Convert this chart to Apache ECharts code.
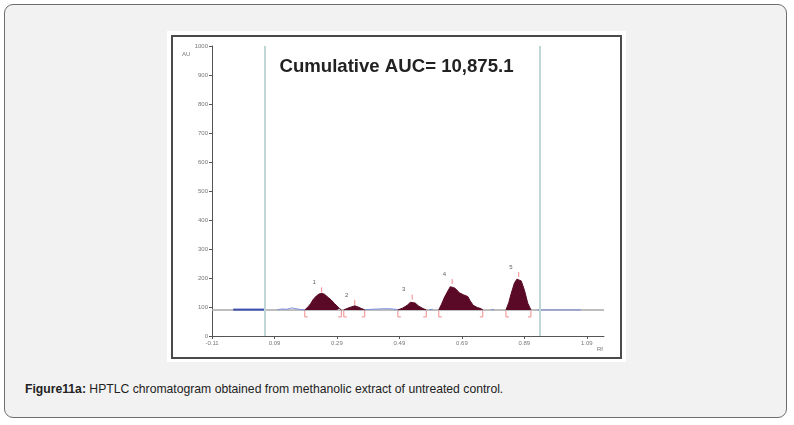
<!DOCTYPE html>
<html>
<head>
<meta charset="utf-8">
<script src="https://cdn.jsdelivr.net/npm/echarts@6/dist/echarts.min.js"></script>
<style>
  html, body { margin:0; padding:0; background:#ffffff; width:794px; height:425px; overflow:hidden; font-family:"Liberation Sans", Arial, sans-serif; }
  #panel { position:absolute; left:4px; top:4px; width:783px; height:414px; box-sizing:border-box; border:1px solid #6e6e6e; border-radius:9px; background:#f2f2f2; }
  #imgbox { position:absolute; left:167px; top:31px; width:459px; height:331px; background:#ffffff; }
  #frame { position:absolute; left:171px; top:35px; width:451px; height:324px; box-sizing:border-box; border:2px solid #4a4a4a; background:#fff; }
  #chart { width:447px; height:320px; }
  #caption { position:absolute; left:25px; top:382px; font-size:12.2px; line-height:14px; color:#222; white-space:nowrap; }
</style>
</head>
<body>
<div id="panel"></div>
<div id="imgbox"></div>
<div id="frame"><div id="chart"></div></div>
<div id="caption"><b>Figure11a:</b> HPTLC chromatogram obtained from methanolic extract of untreated control.</div>
<script>
// ---- data (Rf, AU) ----
const titleText = 'Cumulative AUC= 10,875.1';
const xMin = -0.11, xMax = 1.145, xStep = 0.2;
const yMin = 0, yMax = 1000, yStep = 100;
const baselineAU = 90;
const baselineX = [-0.11, 1.145];
const frontLines = [0.059, 0.935];

const scanDarkX = [-0.042, 0.059];
const scanDarkY = [91, 91];
const scanLightX = [0.100, 0.115, 0.130, 0.145, 0.155, 0.170, 0.187, null, 0.380, 0.400, 0.420, 0.440, 0.460, 0.485, null, 0.585, 0.597, null, 0.783, 0.793, null, 0.932, 1.071];
const scanLightY = [91, 93, 92, 97, 95, 92, 90, null, 91, 92, 93, 94, 94, 91, null, 91, 92, null, 91, 91, null, 90, 90];

const peak1X = [0.187, 0.198, 0.206, 0.214, 0.224, 0.233, 0.241, 0.250, 0.262, 0.272, 0.282, 0.290, 0.298, 0.304];
const peak1Y = [90, 101, 112, 126, 138, 145, 147, 144, 133, 124, 112, 104, 95, 90];
const peak2X = [0.312, 0.325, 0.338, 0.347, 0.356, 0.368, 0.379];
const peak2Y = [90, 96, 101, 104, 101, 95, 90];
const peak3X = [0.485, 0.500, 0.515, 0.525, 0.531, 0.540, 0.552, 0.565, 0.576];
const peak3Y = [90, 96, 106, 116, 122, 114, 103, 95, 90];
const peak4X = [0.616, 0.625, 0.635, 0.645, 0.653, 0.659, 0.668, 0.682, 0.695, 0.709, 0.716, 0.726, 0.740, 0.750, 0.757];
const peak4Y = [90, 110, 135, 155, 170, 176, 165, 149, 142, 136, 122, 106, 98, 95, 90];
const peak5X = [0.831, 0.840, 0.848, 0.858, 0.866, 0.872, 0.880, 0.890, 0.901, 0.911];
const peak5Y = [90, 115, 147, 182, 196, 200, 190, 159, 113, 90];

const peakNames = ['1', '2', '3', '4', '5'];
const peakLabelX = [0.217, 0.321, 0.504, 0.634, 0.847];
const peakLabelY = [184, 141, 161, 213, 238];
const peakTopX = [0.241, 0.347, 0.531, 0.659, 0.872];
const peakTopY = [147, 104, 122, 176, 200];
const peakStartX = [0.187, 0.312, 0.485, 0.616, 0.831];
const peakEndX = [0.304, 0.379, 0.576, 0.757, 0.911];

// ---- build ----
const zip = (xs, ys) => xs.map((x, i) => (x === null ? [null, null] : [x, ys[i]]));
const peaks = [[peak1X, peak1Y], [peak2X, peak2Y], [peak3X, peak3Y], [peak4X, peak4Y], [peak5X, peak5Y]];
const peakColor = '#5a0a26';
const pink = '#f08a8a';

const series = [];
series.push({
  type: 'line', data: zip(baselineX, [baselineAU, baselineAU]), symbol: 'none', silent: true,
  lineStyle: { color: '#a8a8a8', width: 1.5 }, z: 1,
  markLine: {
    silent: true, symbol: 'none', label: { show: false },
    lineStyle: { color: '#bfd8d6', width: 2, type: 'solid' },
    data: frontLines.map(v => ({ xAxis: v }))
  }
});
series.push({ type: 'line', data: zip(scanDarkX, scanDarkY), symbol: 'none', lineStyle: { color: '#3b4fae', width: 2 }, z: 2 });
series.push({ type: 'line', data: zip(scanLightX, scanLightY), symbol: 'none', connectNulls: false, lineStyle: { color: '#7b8fe0', width: 1 }, z: 2 });
peaks.forEach(p => {
  series.push({
    type: 'line', data: zip(p[0], p[1]), symbol: 'none',
    lineStyle: { color: peakColor, width: 1 },
    areaStyle: { color: peakColor, opacity: 1, origin: baselineAU }, z: 3
  });
});
// peak-top markers
series.push({
  type: 'custom', z: 4, silent: true,
  data: zip(peakTopX, peakTopY),
  renderItem: (params, api) => {
    const p = api.coord([api.value(0), api.value(1)]);
    return { type: 'line', shape: { x1: p[0], y1: p[1] - 1, x2: p[0], y2: p[1] - 6 }, style: { stroke: pink, lineWidth: 1 } };
  }
});
// integration brackets
const brackets = peakStartX.map(x => [x, 1]).concat(peakEndX.map(x => [x, -1]));
series.push({
  type: 'custom', z: 4, silent: true,
  data: brackets,
  renderItem: (params, api) => {
    const p = api.coord([api.value(0), baselineAU]);
    const s = api.value(1);
    return { type: 'polyline', shape: { points: [[p[0], p[1] + 1], [p[0], p[1] + 7], [p[0] + 3 * s, p[1] + 7]] }, style: { stroke: pink, lineWidth: 1, fill: null } };
  }
});
// peak numbers
series.push({
  type: 'scatter', symbolSize: 0, silent: true, z: 5,
  data: peakNames.map((n, i) => ({ name: n, value: [peakLabelX[i], peakLabelY[i]] })),
  label: { show: true, position: 'inside', formatter: '{b}', fontSize: 6, color: '#333', fontFamily: 'Liberation Sans' }
});

const chart = echarts.init(document.getElementById('chart'), null, { renderer: 'canvas' });
chart.setOption({
  animation: false,
  backgroundColor: '#ffffff',
  title: { text: titleText, left: 'center', top: 15, textStyle: { fontSize: 18.6, fontWeight: 'bold', color: '#222', fontFamily: 'Liberation Sans' } },
  grid: { left: 39, top: 9, right: 16, bottom: 21, containLabel: false },
  xAxis: {
    type: 'value', min: xMin, max: xMax, interval: xStep,
    axisLine: { show: true, onZero: false, lineStyle: { color: '#555', width: 1 } },
    axisTick: { show: true, length: 3, lineStyle: { color: '#555' } },
    axisLabel: { fontSize: 6, color: '#777', margin: 4, showMaxLabel: false, formatter: v => v.toFixed(2) },
    splitLine: { show: false }
  },
  yAxis: {
    type: 'value', min: yMin, max: yMax, interval: yStep,
    axisLine: { show: true, onZero: false, lineStyle: { color: '#555', width: 1 } },
    axisTick: { show: true, length: 3, lineStyle: { color: '#555' } },
    axisLabel: { fontSize: 6, color: '#777', margin: 4, formatter: v => String(v) },
    splitLine: { show: false }
  },
  graphic: [
    { type: 'text', left: 9, top: 14, style: { text: 'AU', fontSize: 6, fill: '#777', fontFamily: 'Liberation Sans' } },
    { type: 'text', left: 424, top: 309, style: { text: 'Rf', fontSize: 6, fill: '#777', fontFamily: 'Liberation Sans' } }
  ],
  series: series
});
</script>
</body>
</html>
